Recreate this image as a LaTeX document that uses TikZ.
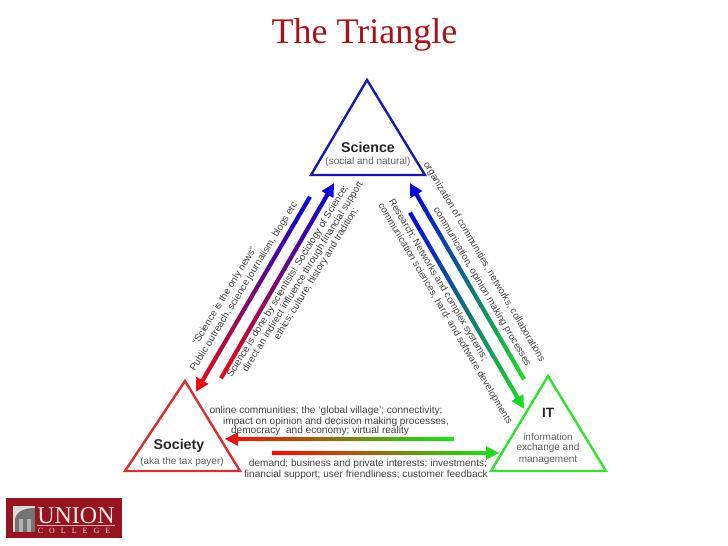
\documentclass[tikz,border=0pt]{standalone}
\usepackage{fontspec}
\setmainfont{Liberation Sans}
\newfontfamily\titlefont{Liberation Serif}
\usetikzlibrary{shapes.arrows, calc}
\definecolor{sciblue}{RGB}{25,25,175}
\definecolor{socred}{RGB}{212,50,50}
\definecolor{itgreen}{RGB}{50,225,50}
\definecolor{arrblue}{RGB}{0,0,225}
\definecolor{arrred}{RGB}{235,15,15}
\definecolor{arrgreen}{RGB}{30,225,30}
\definecolor{unionred}{RGB}{150,20,32}
\definecolor{txtgrey}{RGB}{65,65,65}
\tikzset{
  corner/.style={line width=2.4pt, line join=miter},
  gradarrow/.style={single arrow, inner sep=1.9pt, outer sep=0pt, single arrow head extend=4.8pt,
    single arrow tip angle=56},
  lbl/.style={font=\fontsize{10.1}{11}\selectfont, text=txtgrey, inner sep=0pt},
  rotlbl/.style={font=\fontsize{9.7}{11}\selectfont, text=txtgrey, inner sep=0pt},
  sublbl/.style={font=\fontsize{10}{11}\selectfont, text=txtgrey!85, inner sep=0pt},
  headlbl/.style={font=\fontsize{14.2}{15}\selectfont\bfseries, text=black!85, inner sep=0pt},
}
% #3 and #4: colours at the left and the right end of the arrow
\newcommand{\gradarrow}[4]{%
  \path let \p1=($(#2)-(#1)$), \n1={atan2(\y1,\x1)}, \n2={veclen(\x1,\y1)} in
    node[gradarrow, rotate=\n1, minimum height=\n2, left color=#3, right color=#4]
      (#1#2) at ($(#1)!0.5!(#2)$) {};
}
\begin{document}
\begin{tikzpicture}[x=1pt,y=1pt]
  \useasboundingbox (0,0) rectangle (728,546);
  \node[font=\titlefont\fontsize{36}{38}\selectfont, text={rgb,255:red,165;green,20;blue,25}, inner sep=0pt] (title) at (364.5,511) {The Triangle};
  % triangles
  \draw[corner, draw=sciblue] (367,466) -- (311,371) -- (425,371) -- cycle;
  \draw[corner, draw=socred] (185,165) -- (125,75) -- (240,75) -- cycle;
  \draw[corner, draw=itgreen] (548,170) -- (491,75) -- (606,75) -- cycle;
  \node[headlbl] (science) at (368,399) {Science};
  \node[sublbl] (sciencesub) at (368,384) {(social and natural)};
  \node[headlbl] (society) at (179,100) {Society};
  \node[sublbl] (societysub) at (182,84) {(aka the tax payer)};
  \node[font=\fontsize{13.5}{15}\selectfont\bfseries, text=black!85, inner sep=0pt] (it) at (548,133) {IT};
  \node[sublbl] (itsuba) at (548,109) {information};
  \node[sublbl] (itsubb) at (548,98) {exchange and};
  \node[sublbl] (itsubc) at (548,86) {management};
  % arrow ends
  \coordinate (sn) at (311,351);
  \coordinate (sw) at (197,156);
  \coordinate (se) at (220,166);
  \coordinate (ne) at (333,361);
  \coordinate (it1) at (525,165);
  \coordinate (sc1) at (411,361);
  \coordinate (sc2) at (409,335);
  \coordinate (it2) at (523,139);
  \coordinate (it3) at (456,107);
  \coordinate (so1) at (227,107);
  \coordinate (so2) at (270,93);
  \coordinate (it4) at (497,93);
  % arrows
  \gradarrow{sn}{sw}{arrred}{arrblue}
  \gradarrow{se}{ne}{arrred}{arrblue}
  \gradarrow{it1}{sc1}{arrblue}{arrgreen}
  \gradarrow{sc2}{it2}{arrblue}{arrgreen}
  \gradarrow{it3}{so1}{arrred}{arrgreen}
  \gradarrow{so2}{it4}{arrred}{arrgreen}
  % science - society
  \node[rotlbl, rotate=58.5] (la) at (225,250) {``Science is the only news''};
  \node[rotlbl, rotate=58.5] (lb) at (244,259) {Public outreach, science journalism, blogs etc};
  \node[rotlbl, rotate=58.5] (lc) at (288,264.5) {Science is done by scientists! Sociology of Science;};
  \node[rotlbl, rotate=58.5] (ld) at (303,269) {direct an indirect influence through financial support};
  \node[rotlbl, rotate=58.5] (le) at (316.5,272) {ethics; culture, history and tradition;};
  % science - it
  \node[rotlbl, rotate=-59.5] (ra) at (484,284) {organization of communities, networks, collaborations};
  \node[rotlbl, rotate=-59.5] (rb) at (482,259) {communication, opinion making processes};
  \node[rotlbl, rotate=-59.5] (rc) at (438,266) {Research; Networks and complex systems;};
  \node[rotlbl, rotate=-59.5] (rd) at (445,232) {communication sciences, hard- and software developments};
  % society - it
  \node[lbl] (ba) at (326,135) {online communities; the ‘global village’; connectivity;};
  \node[lbl] (bb) at (336,124) {impact on opinion and decision making processes,};
  \node[lbl] (bc) at (320,115) {democracy\ \ and economy; virtual reality};
  \node[lbl] (bd) at (368,82) {demand; business and private interests; investments;};
  \node[lbl] (be) at (366,71) {financial support; user friendliness; customer feedback};
  % logo
  \fill[unionred] (6,8) rectangle (122,48);
  \fill[black!15] (13,14) rectangle (35,40);
  \fill[black!55] (15,14) -- (15,27) .. controls (17,36) and (27,38) .. (35,38) -- (35,14) -- cycle;
  \fill[black!30] (19,14) rectangle (23,27);
  \fill[black!30] (27,14) rectangle (31,27);
  \node[font=\titlefont\fontsize{24}{25}\selectfont, text=white!90!unionred, inner sep=0pt] (union) at (76,30) {UNION};
  \draw[white!70!unionred, line width=0.5pt] (37,20.5) -- (115,20.5);
  \node[font=\titlefont\fontsize{8}{9}\selectfont\addfontfeatures{LetterSpace=75}, text=white!85!unionred, inner sep=0pt] (college) at (74,15) {COLLEGE};
\end{tikzpicture}
\end{document}
